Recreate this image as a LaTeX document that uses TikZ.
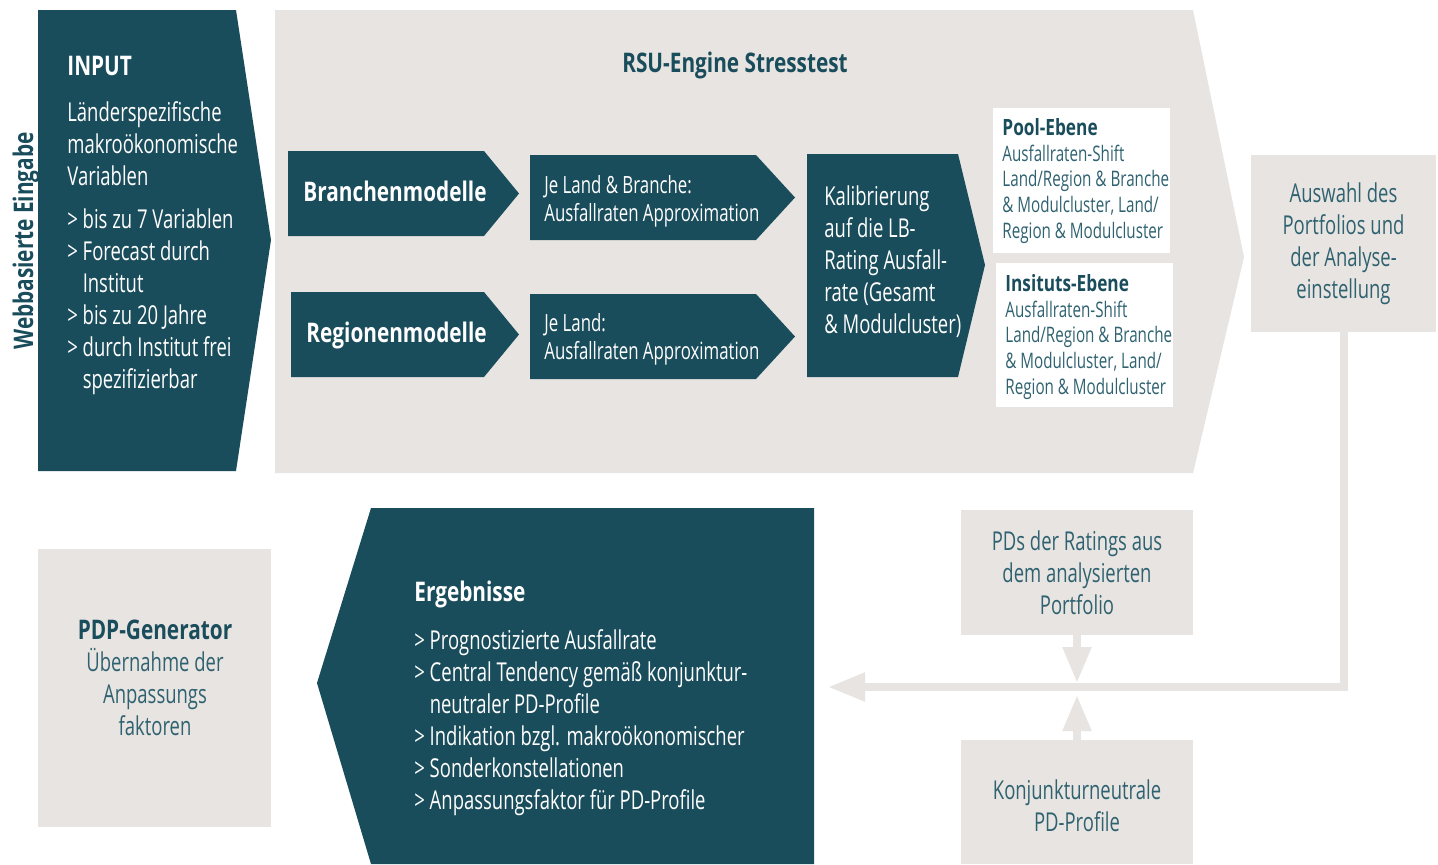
\documentclass[tikz,border=0pt]{standalone}
\usepackage{fontspec}
\setmainfont{Open Sans}[FakeStretch=0.71]
\newfontfamily\headfont{Open Sans}[FakeStretch=0.77]
\usetikzlibrary{calc, arrows.meta, positioning}

\definecolor{rsuDark}{HTML}{1A4D5C}
\definecolor{rsuGrey}{HTML}{E8E4E1}
\definecolor{rsuText}{HTML}{2F6270}

\tikzset{
  greybox/.style={fill=rsuGrey, inner sep=0pt, align=center, text=rsuText,
    font=\fontsize{13}{16}\selectfont},
  whitebox/.style={fill=white, inner sep=0pt},
  txt/.style={inner sep=0pt, align=left, font=\fontsize{13}{16}\selectfont},
  headtxt/.style={inner sep=0pt, font=\headfont\bfseries\fontsize{13.5}{16}\selectfont},
  pooltxt/.style={txt, text=rsuText, anchor=north west, font=\fontsize{10.7}{12.85}\selectfont},
  flow/.style={draw=rsuGrey, line width=4pt},
}
\newcommand{\poolhead}[1]{{\headfont\bfseries\color{rsuDark}\fontsize{11.2}{12.85}\selectfont #1}}

\begin{document}
\begin{tikzpicture}[x=0.5pt, y=-0.5pt]
       \fill[white] (0,0) rectangle (1438,864);
       \useasboundingbox (0,0) rectangle (1438,864);

       %Engine 背景與輸入
       \fill[rsuGrey] (275,10) -- (1193,10) -- (1244,257) -- (1193,473) -- (275,473) -- cycle;
       \fill[rsuDark] (38,10) -- (236,10) -- (271,240) -- (236,471) -- (38,471) -- cycle;

       %四個小箭頭
       \foreach \cx/\cy/\cw/\ct in {288/151/196/35, 530/155/226/39, 291/292/193/35, 530/294/226/39}
       {
           \fill[rsuDark] (\cx,\cy) -- ++(\cw,0) -- ++(\ct,42.5) -- ++(-\ct,42.5) -- ++(-\cw,0) -- cycle;
       };
       \fill[rsuDark] (807,154) -- ++(151,0) -- ++(27,111) -- ++(-27,112) -- ++(-151,0) -- cycle;

       %結果
       \fill[rsuDark] (371,508) -- (814,508) -- (814,864) -- (371,864) -- (317,683) -- cycle;

       \node[headtxt, text=rsuDark, rotate=90, anchor=base] (webEingabe) at (33,241) {Webbasierte Eingabe};
       \node[headtxt, text=white, anchor=base west] (inputTitle) at (67,75) {INPUT};
       \node[txt, text=white, anchor=north west] (inputText) at (67,101)
           {Länderspezifische\\makroökonomische\\Variablen};
       \node[txt, text=white, anchor=north west] (inputList) at (67,208)
           {> bis zu 7 Variablen\\> Forecast durch\\\phantom{> }Institut\\> bis zu 20 Jahre\\> durch Institut frei\\\phantom{> }spezifizierbar};

       \node[headtxt, text=rsuDark, anchor=base] (engineTitle) at (735,72) {RSU-Engine Stresstest};
       \node[headtxt, text=white, anchor=base west] (branchen) at (303,201) {Branchenmodelle};
       \node[headtxt, text=white, anchor=base west] (regionen) at (306,342) {Regionenmodelle};
       \node[txt, text=white, anchor=north west, font=\fontsize{11.85}{14}\selectfont] (landBranche) at (544,175)
           {Je Land \& Branche:\\Ausfallraten Approximation};
       \node[txt, text=white, anchor=north west, font=\fontsize{11.85}{14}\selectfont] (land) at (544,313)
           {Je Land:\\Ausfallraten Approximation};
       \node[txt, text=white, anchor=north west] (kalib) at (824,185)
           {Kalibrierung\\auf die LB-\\Rating Ausfall-\\rate (Gesamt\\\& Modulcluster)};

       %Pool 與 Institut
       \node[whitebox, minimum width=88.5pt, minimum height=72.5pt] (poolBox) at (1081.5,180.5) {};
       \node[whitebox, minimum width=88.5pt, minimum height=72pt] (instBox) at (1084.5,335) {};
       \node[pooltxt] (poolText) at (1002,118)
           {\poolhead{Pool-Ebene}\\Ausfallraten-Shift\\Land/Region \& Branche\\\& Modulcluster, Land/\\Region \& Modulcluster};
       \node[pooltxt] (instText) at (1005,274)
           {\poolhead{Insituts-Ebene}\\Ausfallraten-Shift\\Land/Region \& Branche\\\& Modulcluster, Land/\\Region \& Modulcluster};

       %灰色方塊
       \node[greybox, minimum width=92.5pt, minimum height=88.5pt] (auswahl) at (1343.5,243.5)
           {Auswahl des\\Portfolios und\\der Analyse-\\einstellung};
       \node[greybox, minimum width=116pt, minimum height=62.5pt] (pds) at (1077,572.5)
           {PDs der Ratings aus\\dem analysierten\\Portfolio};
       \node[greybox, minimum width=116pt, minimum height=62pt] (konj) at (1077,802) {};
       \node[txt, align=center, text=rsuText] (konjText) at (1077,806) {Konjunkturneutrale\\PD-Profile};
       \node[greybox, minimum width=116.5pt, minimum height=139pt] (pdp) at (154.5,688) {};
       \node[txt, align=center, text=rsuText] (pdpText) at (155,678)
           {{\headfont\bfseries\color{rsuDark}\fontsize{13.5}{16}\selectfont PDP-Generator}\\Übernahme der\\Anpassungs\\faktoren};

       \node[headtxt, text=white, anchor=base west] (ergTitle) at (414,601) {Ergebnisse};
       \node[txt, text=white, anchor=north west] (ergList) at (414,629)
           {> Prognostizierte Ausfallrate\\> Central Tendency gemäß konjunktur-\\\phantom{> }neutraler PD-Profile\\> Indikation bzgl. makroökonomischer\\> Sonderkonstellationen\\> Anpassungsfaktor für PD-Profile};

       %連接線
       \coordinate (ergIn) at (828,687);
       \draw[flow, -{Triangle[width=13.5pt,length=18.5pt]}] (auswahl.south) |- (ergIn);
       \draw[flow, -{Triangle[width=13.5pt,length=18pt]}] (pds.south) -- ($(pds.south |- ergIn)+(0,-4)$);
       \draw[flow, -{Triangle[width=13.5pt,length=18pt]}] (konj.north) -- ($(konj.north |- ergIn)+(0,8)$);
\end{tikzpicture}
\end{document}
